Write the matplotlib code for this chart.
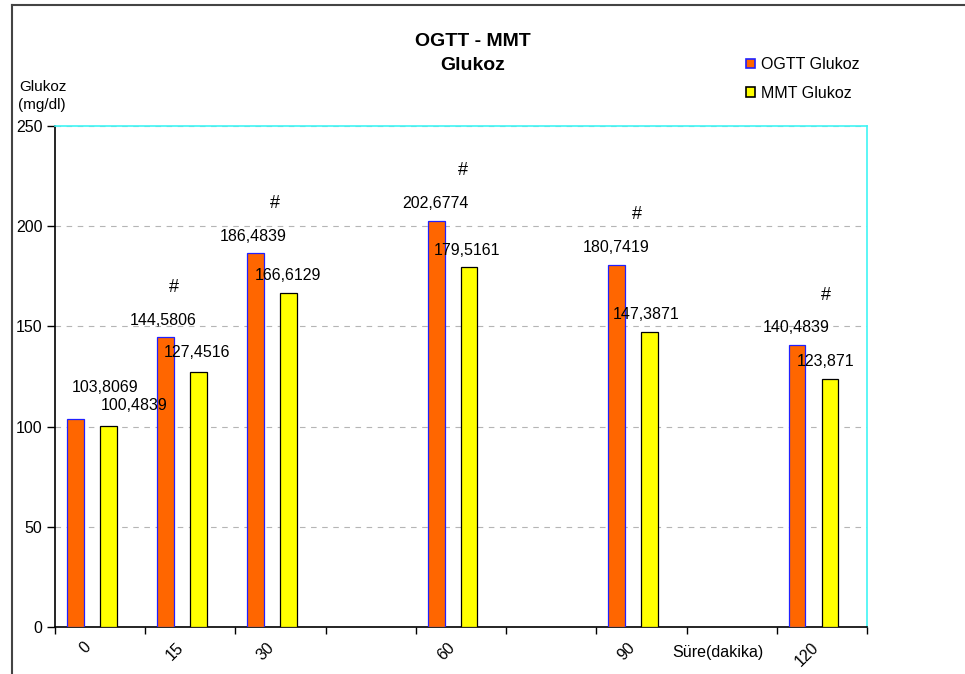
import matplotlib
matplotlib.use("Agg")
import matplotlib.pyplot as plt
from matplotlib.patches import Patch
from matplotlib.lines import Line2D
import matplotlib.transforms as mtransforms

# ---- data ----
tick_labels = ["0", "15", "30", "", "60", "", "90", "", "120"]
times = ["0", "15", "30", "60", "90", "120"]
ogtt = [103.8069, 144.5806, 186.4839, 202.6774, 180.7419, 140.4839]
mmt = [100.4839, 127.4516, 166.6129, 179.5161, 147.3871, 123.871]
sig_times = ["15", "30", "60", "90", "120"]
series_names = ["OGTT Glukoz", "MMT Glukoz"]

# ---- style ----
plt.rcParams['font.family'] = ['Liberation Sans', 'DejaVu Sans']
orange = "#ff6600"
yellow = "#ffff00"
cyan = "#3ff5f5"

fig = plt.figure(figsize=(9.65, 6.74), dpi=100)
ax = fig.add_axes([55/965, 1-627/674, (867-55)/965, (627-126)/674])

cat_idx = [tick_labels.index(t) for t in times]
w = 0.185
x_o = [i + 0.225 for i in cat_idx]
x_m = [i + 0.59 for i in cat_idx]
ax.bar(x_o, ogtt, width=w, color=orange, edgecolor="#2020ff", linewidth=0.9, zorder=3)
ax.bar(x_m, mmt, width=w, color=yellow, edgecolor="black", linewidth=0.9, zorder=3)

ax.set_xlim(0, 9)
ax.set_ylim(0, 250)
ax.set_yticks(range(0, 251, 50))
ax.yaxis.grid(True, linestyle=(0, (5, 5)), color="#b5b5b5", linewidth=0.8, zorder=0)
ax.set_axisbelow(True)

ax.set_xticks(range(0, 10))
ax.set_xticklabels([])
ax.set_xticks([i + 0.5 for i in range(9)], minor=True)
ax.set_xticklabels(tick_labels, minor=True, rotation=45, ha="center", va="top", fontsize=11.5)
ax.tick_params(axis="x", which="major", direction="out", length=5, width=1, color="black")
ax.tick_params(axis="x", which="minor", length=0, pad=9)
ax.tick_params(axis="y", direction="out", length=6, width=1, labelsize=11.5, pad=3)
off = mtransforms.ScaledTranslation(-0.15, 0, fig.dpi_scale_trans)
for lab in ax.xaxis.get_minorticklabels():
    lab.set_transform(lab.get_transform() + off)

ax.spines["left"].set_color("black")
ax.spines["bottom"].set_color("black")
ax.spines["top"].set_color(cyan)
ax.spines["right"].set_color(cyan)
for s in ax.spines.values():
    s.set_linewidth(1.2)

# value labels (offsets in pixels)
def fmt(v):
    return str(v).replace(".", ",")

o_off = [(30, 31), (-2, 17), (-3, 17), (-1, 17), (-1, 17), (-1, 18)]
m_off = [(26, 20), (-1, 19), (-1, 18), (-2, 17), (-3, 17), (-4, 17)]
for xs, vals, offs in ((x_o, ogtt, o_off), (x_m, mmt, m_off)):
    for x, v, (dx, dy) in zip(xs, vals, offs):
        ax.annotate(fmt(v), (x, v), xytext=(dx*0.72, dy*0.72), textcoords="offset points",
                    ha="center", va="center", fontsize=11.5, zorder=5)

# significance marks
sig_dx = [8, 19, 27, 20, 29]
for t, dx in zip(sig_times, sig_dx):
    k = times.index(t)
    ax.annotate("#", (x_o[k], ogtt[k]), xytext=(dx*0.72, 50*0.72), textcoords="offset points",
                ha="center", va="center", fontsize=13, zorder=5)

# titles and labels
fig.text(473/965, 1-42/674, "OGTT - MMT", ha="center", va="center", fontsize=14, fontweight="bold")
fig.text(473/965, 1-66/674, "Glukoz", ha="center", va="center", fontsize=14, fontweight="bold")
fig.text(19/965, 1-87/674, "Glukoz", ha="left", va="center", fontsize=11)
fig.text(18/965, 1-105/674, "(mg/dl)", ha="left", va="center", fontsize=11)
fig.text(718/965, 1-653/674, "Süre(dakika)", ha="center", va="center", fontsize=11.5)

handles = [Patch(facecolor=orange, edgecolor="#2020ff", linewidth=1.2),
           Patch(facecolor=yellow, edgecolor="black", linewidth=1.2)]
fig.legend(handles, series_names, loc="upper left", bbox_to_anchor=(735/965, 1-46/674),
           frameon=False, fontsize=11.5, handlelength=0.55, handleheight=0.55,
           handletextpad=0.4, labelspacing=0.85, borderpad=0.2)

# outer chart border (top and left)
fig.add_artist(Line2D([12/965, 12/965], [0, 1-5/674], transform=fig.transFigure, color="#444444", lw=1.5))
fig.add_artist(Line2D([12/965, 1], [1-5/674, 1-5/674], transform=fig.transFigure, color="#444444", lw=1.5))

fig.savefig("out.png", dpi=100)
